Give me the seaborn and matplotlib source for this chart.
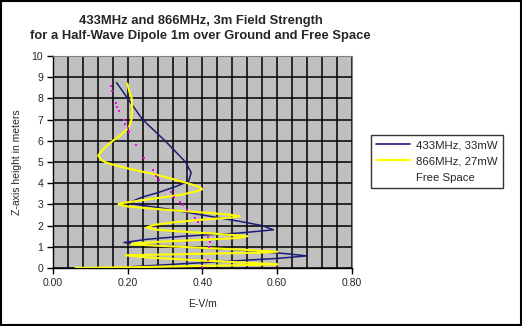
import matplotlib
matplotlib.use("Agg")
import matplotlib.pyplot as plt
import seaborn as sns
import pandas as pd
from matplotlib.lines import Line2D
from matplotlib.patches import Rectangle

# ---- data (E in V/m, Z height in meters) ----
blue_e = [0.17, 0.20, 0.24, 0.30, 0.355, 0.37, 0.363, 0.33, 0.28, 0.24, 0.21, 0.22,
          0.30, 0.40, 0.50, 0.56, 0.59, 0.50, 0.35, 0.25, 0.19, 0.24, 0.35, 0.50,
          0.62, 0.68, 0.60, 0.45, 0.30, 0.21]
blue_z = [8.75, 8.0, 7.0, 6.0, 5.0, 4.5, 4.1, 3.85, 3.55, 3.35, 3.13, 3.0,
          2.8, 2.5, 2.2, 2.0, 1.8, 1.65, 1.5, 1.35, 1.2, 1.1, 1.0, 0.85,
          0.68, 0.57, 0.45, 0.3, 0.15, 0.06]

yellow_e = [0.199, 0.205, 0.211, 0.212, 0.21, 0.205, 0.195, 0.18, 0.16, 0.14, 0.125,
            0.121, 0.13, 0.145, 0.20, 0.276, 0.33, 0.37, 0.395, 0.399, 0.38, 0.339,
            0.28, 0.22, 0.18, 0.175, 0.20, 0.30, 0.40, 0.47, 0.50, 0.48, 0.40, 0.32,
            0.27, 0.25, 0.28, 0.38, 0.47, 0.52, 0.50, 0.40, 0.30, 0.22, 0.21, 0.28,
            0.40, 0.52, 0.60, 0.55, 0.40, 0.25, 0.194, 0.25, 0.40, 0.55, 0.60, 0.50,
            0.35, 0.20, 0.06]
yellow_z = [8.7, 8.3, 8.0, 7.5, 7.0, 6.7, 6.5, 6.25, 6.0, 5.7, 5.4,
            5.3, 5.1, 4.95, 4.7, 4.4, 4.15, 3.95, 3.8, 3.71, 3.6, 3.44,
            3.3, 3.15, 3.05, 3.0, 2.9, 2.75, 2.62, 2.52, 2.45, 2.38, 2.28, 2.15,
            2.03, 1.9, 1.8, 1.68, 1.57, 1.5, 1.42, 1.33, 1.25, 1.17, 1.12, 1.05,
            0.95, 0.85, 0.77, 0.72, 0.67, 0.62, 0.6, 0.5, 0.35, 0.22, 0.17, 0.13,
            0.08, 0.03, 0.0]

free_e = [0.154, 0.159, 0.17, 0.172, 0.177, 0.189, 0.192, 0.20, 0.204, 0.223, 0.244,
          0.268, 0.276, 0.285, 0.316, 0.325, 0.339, 0.347, 0.359, 0.379, 0.388,
          0.414, 0.419, 0.417, 0.414, 0.40]
free_z = [8.58, 8.36, 7.8, 7.61, 7.4, 6.98, 6.79, 6.59, 6.4, 5.8, 5.2,
          4.62, 4.34, 4.15, 3.6, 3.36, 3.13, 2.97, 2.74, 2.34, 2.18,
          1.48, 1.24, 1.0, 0.38, 0.06]

labels = ["433MHz, 33mW", "866MHz, 27mW", "Free Space"]
x_ticks = [0.0, 0.2, 0.4, 0.6, 0.8]
x_ticklabels = ["0.00", "0.20", "0.40", "0.60", "0.80"]
y_ticks = list(range(0, 11))

sns.set_style("white")
plt.rcParams['font.family'] = ['Liberation Sans', 'DejaVu Sans']

fig = plt.figure(figsize=(5.22, 3.26), dpi=100)
ax = fig.add_axes([0.1015, 0.178, 0.5725, 0.65])
ax.set_facecolor("#c0c0c0")

df_b = pd.DataFrame({"E": blue_e, "Z": blue_z})
df_y = pd.DataFrame({"E": yellow_e, "Z": yellow_z})
df_f = pd.DataFrame({"E": free_e, "Z": free_z})

sns.lineplot(data=df_b, x="E", y="Z", sort=False, estimator=None, ax=ax,
             color="#1c1c78", linewidth=1.1, zorder=3)
sns.lineplot(data=df_y, x="E", y="Z", sort=False, estimator=None, ax=ax,
             color="#ffff00", linewidth=1.5, zorder=4)
sns.scatterplot(data=df_f, x="E", y="Z", ax=ax, color="#ff00ff", marker="s",
                s=3, linewidth=0, zorder=5)

ax.set_xlim(0, 0.8)
ax.set_ylim(0, 10)
ax.set_xticks(x_ticks)
ax.set_xticklabels(x_ticklabels)
ax.set_yticks(y_ticks)
ax.set_xticks([i * 0.04 for i in range(21)], minor=True)
ax.grid(True, which="both", axis="x", color="black", linewidth=1.1)
ax.grid(True, which="major", axis="y", color="black", linewidth=1.1)
ax.set_axisbelow(True)
ax.tick_params(axis="both", which="major", direction="out", length=4, width=1,
               color="black", labelsize=7.5, pad=3, bottom=True, left=True)
ax.tick_params(axis="x", which="minor", length=0)
for s in ["left", "bottom"]:
    ax.spines[s].set_color("black")
    ax.spines[s].set_linewidth(1)
for s in ["top", "right"]:
    ax.spines[s].set_color("#808080")
    ax.spines[s].set_linewidth(0.8)

ax.set_xlabel("E-V/m", fontsize=7.5, labelpad=8)
ax.set_ylabel("Z-axis height in meters", fontsize=7.5, labelpad=7)

fig.text(0.384, 0.937, "433MHz and 866MHz, 3m Field Strength", ha="center",
         va="center", fontsize=9.4, fontweight="bold")
fig.text(0.384, 0.89, "for a Half-Wave Dipole 1m over Ground and Free Space",
         ha="center", va="center", fontsize=9.4, fontweight="bold")

handles = [Line2D([], [], color="#1c1c78", linewidth=1.2),
           Line2D([], [], color="#ffff00", linewidth=1.6),
           Line2D([], [], color="none")]
leg = fig.legend(handles, labels, loc="upper left", bbox_to_anchor=(0.711, 0.586),
                 borderaxespad=0, fontsize=8.2, frameon=True, fancybox=False,
                 edgecolor="black", borderpad=0.45, handlelength=3.0,
                 handletextpad=0.5, labelspacing=0.55)
leg.get_frame().set_linewidth(1)

fig.patches.append(Rectangle((0.001, 0.002), 0.997, 0.995, transform=fig.transFigure,
                             fill=False, edgecolor="black", linewidth=1.5))

fig.savefig("out.png", dpi=100)
